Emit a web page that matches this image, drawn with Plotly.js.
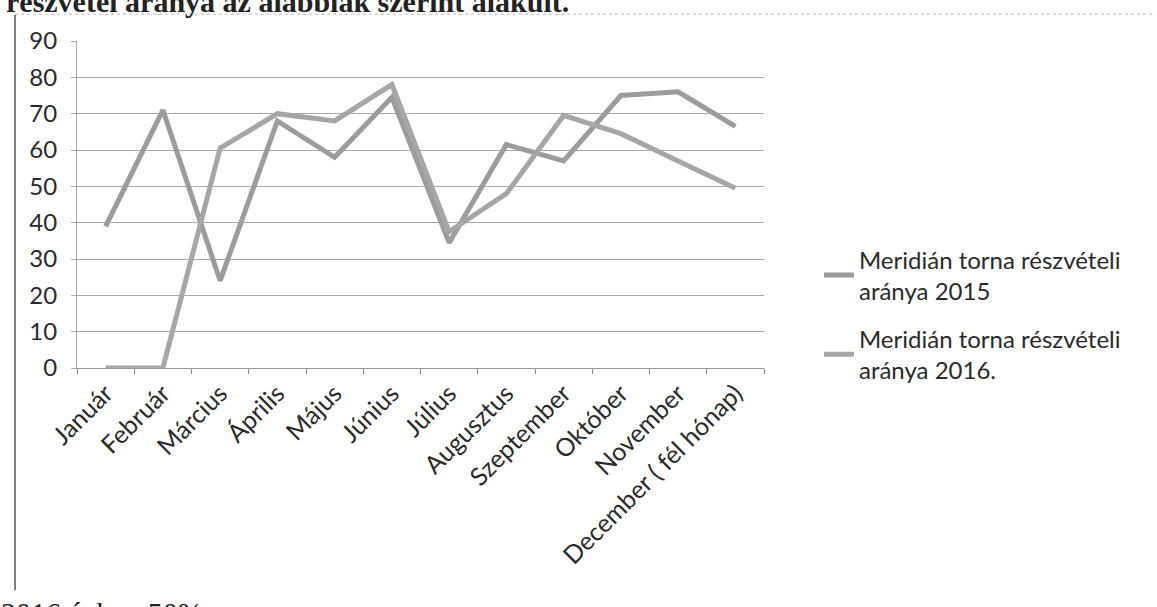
<!DOCTYPE html>
<html>
<head>
<meta charset="utf-8">
<script src="https://cdn.plot.ly/plotly-3.0.1.min.js"></script>
<style>
html,body{margin:0;padding:0;background:#fff;}
#chart{width:1157px;height:607px;}
</style>
</head>
<body>
<div id="chart"></div>
<script>
const months = ["Január","Február","Március","Április","Május","Június","Július","Augusztus","Szeptember","Október","November","December ( fél hónap)"];
const values2015 = [39, 71, 24, 68, 58, 74.5, 34.5, 61.5, 57, 75, 76, 66.5];
const values2016 = [0, 0, 60.5, 70, 68, 78, 37.5, 48, 69.5, 64.5, 57, 49.5];
const seriesNames = ["Meridián torna részvételi<br>aránya 2015", "Meridián torna részvételi<br>aránya 2016."];
const yTicks = [0,10,20,30,40,50,60,70,80,90];

const traces = [
  {x: months, y: values2015, name: seriesNames[0], type: "scatter", mode: "lines",
   line: {color: "#9c9c9c", width: 5}, legendgroup: "a"},
  {x: months, y: values2016, name: seriesNames[1], type: "scatter", mode: "lines",
   line: {color: "#a6a6a6", width: 5}, legendgroup: "b"}
];

const layout = {
  width: 1157, height: 607,
  paper_bgcolor: "#fff", plot_bgcolor: "#fff",
  margin: {l: 77, r: 393, t: 41, b: 239},
  font: {family: "Lato, 'Open Sans', sans-serif", size: 24, color: "#2a2a2a"},
  showlegend: true,
  legend: {x: 1.08, y: 0.40, xanchor: "left", yanchor: "top",
           font: {size: 24, color: "#2a2a2a", family: "Lato, 'Open Sans', sans-serif"},
           traceorder: "grouped", tracegroupgap: 14, itemwidth: 30, bgcolor: "rgba(0,0,0,0)"},
  xaxis: {type: "category", range: [-0.5, 11.5], tickangle: -45, tickson: "boundaries", ticks: "outside", ticklen: 5,
          tickcolor: "#888", showgrid: false, showline: true, linecolor: "#999", linewidth: 1,
          tickfont: {size: 25, color: "#2a2a2a"}, zeroline: false},
  yaxis: {range: [0, 90], tickvals: yTicks, showgrid: true, gridcolor: "#aaaaaa", gridwidth: 1,
          showline: true, linecolor: "#aaa", linewidth: 1, zeroline: false, ticks: "outside",
          ticklen: 5, tickcolor: "#aaa", ticklabelstandoff: 9,
          tickfont: {size: 24, color: "#2a2a2a"}},
  shapes: [
    {type: "line", xref: "paper", yref: "paper", x0: -0.0902, x1: -0.0902, y0: 1.08, y1: -0.68,
     line: {color: "#555", width: 1.5}},
    {type: "line", xref: "paper", yref: "paper", x0: -0.0902, x1: 1.57, y0: 1.082, y1: 1.082,
     line: {color: "#bbb", width: 1, dash: "dot"}}
  ],
  annotations: [
    {xref: "paper", yref: "paper", x: -0.106, y: 1.065, xanchor: "left", yanchor: "bottom",
     text: "<b>részvétel aránya az alábbiak szerint alakult.</b>", showarrow: false,
     font: {family: "'Liberation Serif', serif", size: 30, color: "#222"}},
    {xref: "paper", yref: "paper", x: -0.113, y: -0.691, xanchor: "left", yanchor: "top",
     text: "2016 évben 50% ...", showarrow: false,
     font: {family: "'Liberation Serif', serif", size: 30, color: "#222"}}
  ]
};

Plotly.newPlot("chart", traces, layout, {displayModeBar: false, staticPlot: true});
</script>
</body>
</html>
